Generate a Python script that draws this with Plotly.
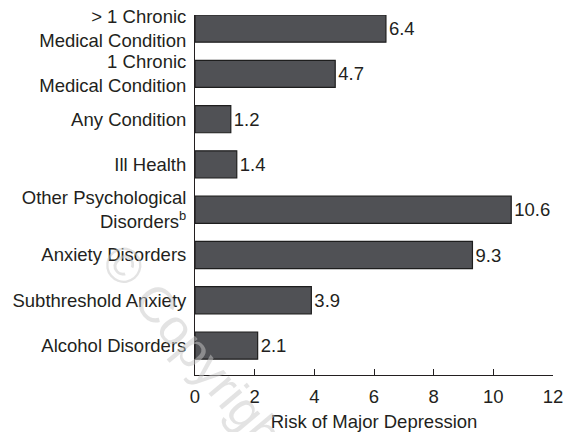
import plotly.graph_objects as go

categories = [
    "> 1 Chronic<br>Medical Condition",
    "1 Chronic<br>Medical Condition",
    "Any Condition",
    "Ill Health",
    "Other Psychological<br>Disorders<sup>b</sup>",
    "Anxiety Disorders",
    "Subthreshold Anxiety",
    "Alcohol Disorders",
]
risk = [6.4, 4.7, 1.2, 1.4, 10.6, 9.3, 3.9, 2.1]
risk_labels = ["6.4", "4.7", "1.2", "1.4", "10.6", "9.3", "3.9", "2.1"]
x_ticks = [0, 2, 4, 6, 8, 10, 12]

FONT = "Liberation Sans, Arial, sans-serif"
TXT = "#231f20"
FS = 18.5

fig = go.Figure()
fig.add_trace(go.Bar(
    x=risk, y=categories, orientation="h",
    marker=dict(color="#505155", line=dict(color="#1e1e1e", width=1.2)),
    width=0.6,
    text=risk_labels, textposition="outside",
    textfont=dict(family=FONT, size=FS, color=TXT),
    cliponaxis=False,
))

fig.add_annotation(
    text="© Copyright", xref="paper", yref="paper",
    x=0.005, y=0.06, xanchor="center", yanchor="middle",
    showarrow=False, textangle=50,
    font=dict(family=FONT, size=50, color="rgba(200,200,200,0.5)"),
)

fig.update_layout(
    width=566, height=432,
    margin=dict(l=195, r=13, t=15, b=57),
    paper_bgcolor="white", plot_bgcolor="white",
    showlegend=False,
    font=dict(family=FONT, size=FS, color=TXT),
    xaxis=dict(
        range=[0, 12], tickvals=x_ticks, ticks="inside", ticklen=6,
        tickcolor=TXT, showline=True, linecolor=TXT, linewidth=1,
        showgrid=False, zeroline=False, automargin=False,
        tickfont=dict(family=FONT, size=FS, color=TXT),
        ticklabelstandoff=5,
        title=dict(text="Risk of Major Depression", standoff=8,
                   font=dict(family=FONT, size=FS, color=TXT)),
    ),
    yaxis=dict(
        type="category", categoryorder="array", categoryarray=categories,
        range=[7.65, -0.3], showline=True, linecolor=TXT, linewidth=1,
        ticks="", showgrid=False, zeroline=False, automargin=False,
        tickfont=dict(family=FONT, size=FS, color=TXT),
        ticklabelstandoff=4,
    ),
)

fig.write_html(
    "out.html",
    config={"displayModeBar": False},
    post_script="document.body.style.margin='0';document.body.style.overflow='hidden';",
)
